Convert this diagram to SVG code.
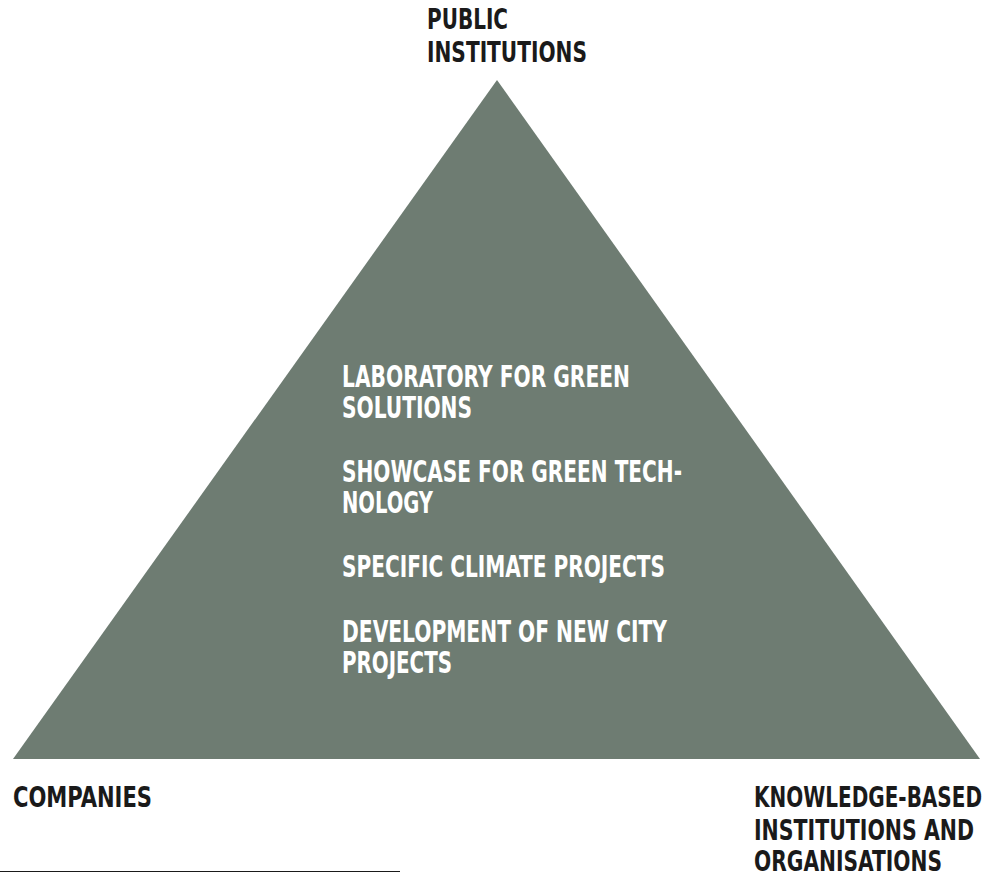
<svg xmlns="http://www.w3.org/2000/svg" width="986" height="877" viewBox="0 0 986 877">
<style>
.lbl{font-family:"Liberation Sans Narrow","DejaVu Sans Condensed","Liberation Sans",sans-serif;font-weight:bold;font-size:28px;fill:#1a1a1a}
.in{font-family:"Liberation Sans Narrow","DejaVu Sans Condensed","Liberation Sans",sans-serif;font-weight:bold;font-size:30px;fill:#ffffff}
</style>
<rect width="986" height="877" fill="#ffffff"/>
<g id="pyramid">
<polygon points="497,80 13,759 980,759" fill="#6e7c72"/>
<text class="in" x="342" y="387" textLength="288" lengthAdjust="spacingAndGlyphs">LABORATORY FOR GREEN</text>
<text class="in" x="342" y="418" textLength="130" lengthAdjust="spacingAndGlyphs">SOLUTIONS</text>
<text class="in" x="342" y="482" textLength="340" lengthAdjust="spacingAndGlyphs">SHOWCASE FOR GREEN TECH-</text>
<text class="in" x="342" y="513" textLength="91" lengthAdjust="spacingAndGlyphs">NOLOGY</text>
<text class="in" x="342" y="577" textLength="323" lengthAdjust="spacingAndGlyphs">SPECIFIC CLIMATE PROJECTS</text>
<text class="in" x="342" y="642" textLength="325" lengthAdjust="spacingAndGlyphs">DEVELOPMENT OF NEW CITY</text>
<text class="in" x="342" y="673" textLength="110" lengthAdjust="spacingAndGlyphs">PROJECTS</text>
</g>
<g id="public">
<text class="lbl" x="427" y="29" textLength="81" lengthAdjust="spacingAndGlyphs">PUBLIC</text>
<text class="lbl" x="427" y="62" textLength="160" lengthAdjust="spacingAndGlyphs">INSTITUTIONS</text>
</g>
<g id="companies">
<text class="lbl" x="13" y="807" textLength="139" lengthAdjust="spacingAndGlyphs">COMPANIES</text>
</g>
<g id="knowledge">
<text class="lbl" x="754" y="807" textLength="228" lengthAdjust="spacingAndGlyphs">KNOWLEDGE-BASED</text>
<text class="lbl" x="754" y="840" textLength="220" lengthAdjust="spacingAndGlyphs">INSTITUTIONS AND</text>
<text class="lbl" x="754" y="871" textLength="188" lengthAdjust="spacingAndGlyphs">ORGANISATIONS</text>
</g>
<g id="connectors">
<line x1="0" y1="871.5" x2="400" y2="871.5" stroke="#1a1a1a" stroke-width="1"/>
</g>
</svg>
